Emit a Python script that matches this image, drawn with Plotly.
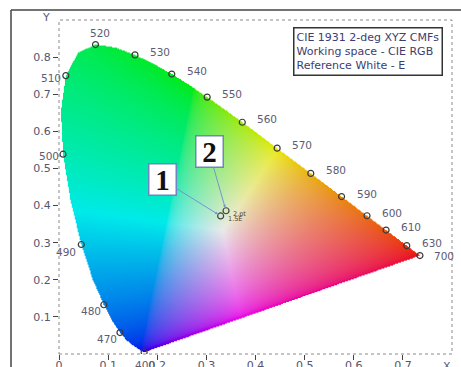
import base64, struct, zlib
import numpy as np
import plotly.graph_objects as go

# CIE 1931 2-deg spectral locus (wavelength nm, x, y)
wl = [380, 390, 400, 410, 420, 425, 430, 435, 440, 445, 450, 455, 460, 465, 470, 475, 480, 485,
      490, 495, 500, 505, 510, 515, 520, 525, 530, 535, 540, 545, 550, 555, 560, 565, 570, 575,
      580, 585, 590, 595, 600, 605, 610, 615, 620, 625, 630, 635, 640, 650, 660, 680, 700]
loc_x = [0.1741, 0.1738, 0.1733, 0.1726, 0.1714, 0.1703, 0.1689, 0.1669, 0.1644, 0.1611, 0.1566,
         0.1510, 0.1440, 0.1355, 0.1241, 0.1096, 0.0913, 0.0687, 0.0454, 0.0235, 0.0082, 0.0039,
         0.0139, 0.0389, 0.0743, 0.1142, 0.1547, 0.1929, 0.2296, 0.2658, 0.3016, 0.3373, 0.3731,
         0.4087, 0.4441, 0.4788, 0.5125, 0.5448, 0.5752, 0.6029, 0.6270, 0.6482, 0.6658, 0.6801,
         0.6915, 0.7006, 0.7079, 0.7140, 0.7190, 0.7260, 0.7300, 0.7334, 0.7347]
loc_y = [0.0050, 0.0049, 0.0048, 0.0048, 0.0051, 0.0058, 0.0069, 0.0086, 0.0109, 0.0138, 0.0177,
         0.0227, 0.0297, 0.0399, 0.0578, 0.0868, 0.1327, 0.2007, 0.2950, 0.4127, 0.5384, 0.6548,
         0.7502, 0.8120, 0.8338, 0.8262, 0.8059, 0.7816, 0.7543, 0.7243, 0.6923, 0.6589, 0.6245,
         0.5896, 0.5547, 0.5202, 0.4866, 0.4544, 0.4242, 0.3965, 0.3725, 0.3514, 0.3340, 0.3197,
         0.3083, 0.2993, 0.2920, 0.2859, 0.2809, 0.2740, 0.2700, 0.2666, 0.2653]

# labelled wavelengths
mark_wl = [400, 470, 480, 490, 500, 510, 520, 530, 540, 550, 560, 570, 580, 590, 600, 610, 630, 700]

# measured points
pt_x = [0.329, 0.340]
pt_y = [0.372, 0.386]
pt_names = ["1", "2"]
pt_small = ["1.5E", "2.pt"]

x_ticks = [0, 0.1, 0.2, 0.3, 0.4, 0.5, 0.6, 0.7]
y_ticks = [0.1, 0.2, 0.3, 0.4, 0.5, 0.6, 0.7, 0.8]
legend_lines = ["CIE 1931 2-deg XYZ CMFs", "Working space - CIE RGB", "Reference White - E"]

XR = [0, 0.8]
YR = [0, 0.9]

# ---- gamut image (colour of each chromaticity in CIE RGB, white E) ----
W, H = 400, 340
gx = XR[0] + (np.arange(W) + 0.5) * (XR[1] - XR[0]) / W
gy = YR[1] - (np.arange(H) + 0.5) * (YR[1] - YR[0]) / H
GX, GY = np.meshgrid(gx, gy)
px = np.array(loc_x); py = np.array(loc_y)
inside = np.zeros(GX.shape, dtype=bool)
n = len(px)
for i in range(n):
    j = (i + 1) % n
    xi, yi, xj, yj = px[i], py[i], px[j], py[j]
    cond = ((yi > GY) != (yj > GY))
    with np.errstate(divide="ignore", invalid="ignore"):
        xint = (xj - xi) * (GY - yi) / (yj - yi) + xi
    inside ^= cond & (GX < xint)
Ysafe = np.maximum(GY, 1e-4)
X = GX / Ysafe
Yv = np.ones_like(GX)
Z = (1 - GX - GY) / Ysafe
M = np.array([[2.3706743, -0.9000405, -0.4706338],
              [-0.5138850, 1.4253036, 0.0885814],
              [0.0052982, -0.0146949, 1.0093968]])
R = M[0, 0] * X + M[0, 1] * Yv + M[0, 2] * Z
G = M[1, 0] * X + M[1, 1] * Yv + M[1, 2] * Z
B = M[2, 0] * X + M[2, 1] * Yv + M[2, 2] * Z
rgb = np.clip(np.stack([R, G, B], axis=-1), 0, None)
mx = np.maximum(rgb.max(axis=-1, keepdims=True), 1e-9)
rgb = (rgb / mx) ** (1 / 2.2)
rgb = rgb * 0.92
img = np.zeros((H, W, 4), dtype=np.uint8)
img[..., :3] = np.clip(rgb * 255, 0, 255).astype(np.uint8)
img[..., 3] = np.where(inside, 255, 0)


def png_bytes(a):
    h, w, _ = a.shape
    raw = b"".join(b"\x00" + a[r].tobytes() for r in range(h))
    def chunk(t, d):
        c = struct.pack(">I", len(d)) + t + d
        return c + struct.pack(">I", zlib.crc32(t + d) & 0xffffffff)
    return (b"\x89PNG\r\n\x1a\n" + chunk(b"IHDR", struct.pack(">IIBBBBB", w, h, 8, 6, 0, 0, 0))
            + chunk(b"IDAT", zlib.compress(raw, 9)) + chunk(b"IEND", b""))


src = "data:image/png;base64," + base64.b64encode(png_bytes(img)).decode()

fig = go.Figure()

idx = [wl.index(w) for w in mark_wl]
fig.add_trace(go.Scatter(
    x=[loc_x[i] for i in idx], y=[loc_y[i] for i in idx], mode="markers",
    marker=dict(symbol="circle-open", size=6, color="#3a3a3a", line=dict(width=1.2)),
    hoverinfo="skip", showlegend=False))
fig.add_trace(go.Scatter(
    x=pt_x, y=pt_y, mode="markers",
    marker=dict(symbol="circle-open", size=6, color="#444", line=dict(width=1.2)),
    hoverinfo="skip", showlegend=False))

lab_font = dict(family="DejaVu Sans", size=10.5, color="#5c5c74")
place = {
    400: dict(xanchor="center", yanchor="top", xshift=1, yshift=-5),
    470: dict(xanchor="right", yanchor="middle", xshift=-1, yshift=-6),
    480: dict(xanchor="right", yanchor="middle", xshift=-1, yshift=-6),
    490: dict(xanchor="right", yanchor="middle", xshift=-3, yshift=-7),
    500: dict(xanchor="right", yanchor="middle", xshift=-2, yshift=-2),
    510: dict(xanchor="right", yanchor="middle", xshift=-3, yshift=-2),
    520: dict(xanchor="center", yanchor="bottom", xshift=4, yshift=4),
}
for w in mark_wl:
    i = wl.index(w)
    p = place.get(w, dict(xanchor="left", yanchor="middle", xshift=13, yshift=3))
    if w == 700:
        p = dict(xanchor="left", yanchor="middle", xshift=12, yshift=0)
    fig.add_annotation(x=loc_x[i], y=loc_y[i], text=str(w), showarrow=False,
                       font=lab_font, **p)

# small point labels
for k in range(2):
    fig.add_annotation(x=pt_x[k], y=pt_y[k], text=pt_small[k], showarrow=False,
                       font=dict(family="DejaVu Sans", size=6.5, color="#444"),
                       xanchor="left", yanchor="middle", xshift=5, yshift=-3)

# numbered boxes with arrows
box_off = [(-58, -36), (-17, -59)]
for k in range(2):
    fig.add_annotation(x=pt_x[k], y=pt_y[k], text="<b>%s</b>" % pt_names[k],
                       font=dict(family="Liberation Serif", size=29, color="#111"),
                       showarrow=True, ax=box_off[k][0], ay=box_off[k][1],
                       arrowhead=2, arrowsize=0.6, arrowwidth=1, arrowcolor="#7396d0",
                       standoff=3, bgcolor="white", bordercolor="#6f84c4", borderwidth=1.5,
                       width=24, height=28, borderpad=1)

# legend box
fig.add_annotation(xref="paper", yref="paper", x=0.977, y=0.979, xanchor="right", yanchor="top",
                   text="<br>".join(legend_lines), align="left", showarrow=False,
                   font=dict(family="DejaVu Sans", size=11, color="#3d3d70"),
                   bgcolor="white", bordercolor="#333", borderwidth=1.5, borderpad=2)

# axis letters
fig.add_annotation(xref="paper", yref="paper", x=(40 - 59) / 393, y=(354 - 17) / 334, text="Y",
                   showarrow=False, font=dict(family="DejaVu Sans", size=11, color="#5c5c74"),
                   yanchor="middle")
fig.add_annotation(xref="paper", yref="paper", x=(453 - 59) / 393, y=(354 - 366) / 334, text="X",
                   showarrow=False, font=dict(family="DejaVu Sans", size=11, color="#5c5c74"),
                   yanchor="middle")

fig.add_layout_image(source=src, xref="x", yref="y", x=XR[0], y=YR[1], sizex=XR[1] - XR[0],
                     sizey=YR[1] - YR[0], xanchor="left", yanchor="top", sizing="stretch",
                     layer="below")

# dotted plot frame and outer solid frame
fig.add_shape(type="rect", xref="paper", yref="paper", x0=0, x1=1, y0=0, y1=1,
              line=dict(color="#8a8a8a", width=1, dash="dot"))
ox = (11 - 59) / 393
oy = (354 - 10) / 334
fig.add_shape(type="line", xref="paper", yref="paper", x0=ox, x1=ox, y0=-0.2, y1=oy,
              line=dict(color="#444", width=1.5))
fig.add_shape(type="line", xref="paper", yref="paper", x0=ox, x1=1.2, y0=oy, y1=oy,
              line=dict(color="#444", width=1.5))

tick_font = dict(family="DejaVu Sans", size=11, color="#55556e")
fig.update_xaxes(range=XR, tickvals=x_ticks, ticktext=[("%g" % v) for v in x_ticks],
                 ticks="outside", ticklen=5, tickcolor="#444", tickfont=tick_font,
                 ticklabelstandoff=-4,
                 showgrid=False, zeroline=False, showline=False, automargin=False)
fig.update_yaxes(range=YR, tickvals=y_ticks, ticktext=[("%g" % v) for v in y_ticks],
                 ticks="outside", ticklen=5, tickcolor="#444", tickfont=tick_font,
                 showgrid=False, zeroline=False, showline=False, automargin=False)
fig.update_layout(width=461, height=367, margin=dict(l=59, r=9, t=20, b=13, autoexpand=False),
                  paper_bgcolor="white", plot_bgcolor="white", showlegend=False)
fig.write_html("out.html", config={"displayModeBar": False},
               post_script="document.body.style.margin='0px';document.body.style.overflow='hidden';")
